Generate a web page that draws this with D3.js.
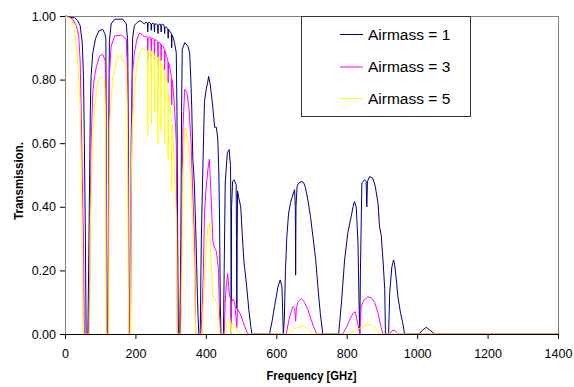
<!DOCTYPE html>
<html>
<head>
<meta charset="utf-8">
<script src="https://cdn.jsdelivr.net/npm/d3@7"></script>
<style>
  html, body { margin: 0; padding: 0; background: #fff; }
  svg { display: block; font-family: "Liberation Sans", Arial, sans-serif; }
</style>
</head>
<body>
<div id="chart"></div>
<script>
// values, [frequency GHz, transmission]
const seriesNames = ['Airmass = 1', 'Airmass = 3', 'Airmass = 5'];
const seriesColors = ['#000080', '#ff00ff', '#ffff00'];
const xTicks = [0, 200, 400, 600, 800, 1000, 1200, 1400];
const yTicks = [0, 0.2, 0.4, 0.6, 0.8, 1.0];

const airmass1 = [
  [0, 1.0], [10, 0.998], [20, 0.995], [27, 0.995], [36, 0.985], [43, 0.97], [49, 0.916], [52.5, 0.81],
  [55, 0.60], [58, 0.29], [60, 0], [65, 0], [68, 0.29], [70, 0.50], [72, 0.71], [74, 0.81], [79, 0.885],
  [87, 0.93], [96, 0.953], [107, 0.958], [113, 0.945], [116, 0.93], [118, 0.3], [119, 0], [122, 0],
  [124, 0.6], [126, 0.92], [131, 0.975], [141, 0.99], [164, 0.99], [174, 0.975], [178, 0.92], [180, 0.6],
  [182, 0], [185, 0], [188, 0.6], [192, 0.93], [197, 0.97], [205, 0.98], [212, 0.985], [220, 0.98],
  [225, 0.975], [230, 0.98], [234, 0.978], [235, 0.95], [236, 0.978], [240, 0.98], [244, 0.975],
  [245, 0.955], [246, 0.975], [250, 0.978], [253, 0.975], [254, 0.95], [255, 0.975], [259, 0.975],
  [263, 0.972], [264, 0.945], [265, 0.972], [270, 0.975], [272, 0.972], [273, 0.95], [274, 0.972],
  [278, 0.975], [282, 0.968], [283, 0.945], [284, 0.965], [288, 0.965], [292, 0.96], [293, 0.93],
  [294, 0.958], [298, 0.952], [302, 0.945], [303, 0.9], [304, 0.94], [308, 0.93], [311, 0.916],
  [316, 0.885], [318, 0.7], [320, 0.3], [322, 0], [326, 0], [329, 0.3], [331, 0.7], [333, 0.895],
  [340, 0.916], [349, 0.905], [354, 0.885], [357, 0.81], [360, 0.71], [363, 0.55], [366, 0.5],
  [368, 0.45], [372, 0.3], [376, 0.12], [378, 0.05], [380, 0], [384, 0], [387, 0.29], [391, 0.50],
  [396, 0.73], [401, 0.77], [405, 0.79], [408, 0.81], [413, 0.78], [420, 0.71], [425, 0.65], [430, 0.65],
  [434, 0.61], [437, 0.5], [439, 0.35], [441, 0.1], [443, 0], [450, 0], [452, 0.2], [455, 0.475],
  [461, 0.57], [466, 0.58], [470, 0.53], [471, 0.4], [472, 0.05], [473, 0.4], [476, 0.48], [480, 0.485],
  [486, 0.47], [487, 0.3], [488, 0.08], [489, 0.3], [490, 0.45], [493, 0.43], [499, 0.40], [503, 0.32],
  [508, 0.23], [515, 0.16], [522, 0.076], [528, 0.02], [531, 0], [581, 0], [588, 0.04], [595, 0.086],
  [605, 0.15], [611, 0.17], [616, 0.15], [618, 0.08], [620, 0], [623, 0.05], [626, 0.2], [630, 0.307],
  [635, 0.38], [640, 0.41], [645, 0.43], [652, 0.454], [654, 0.4], [655, 0.185], [656, 0.4], [659, 0.464],
  [664, 0.475], [671, 0.48], [678, 0.475], [683, 0.46], [690, 0.42], [697, 0.37], [704, 0.307],
  [712, 0.233], [718, 0.15], [725, 0.065], [732, 0], [777, 0], [785, 0.097], [794, 0.233], [803, 0.317],
  [811, 0.36], [818, 0.40], [822, 0.417], [827, 0.40], [832, 0.287], [835, 0.1], [837, 0], [839, 0.2],
  [843, 0.475], [851, 0.485], [855, 0.48], [857, 0.40], [859, 0.48], [865, 0.495], [874, 0.49],
  [881, 0.465], [889, 0.41], [893, 0.34], [898, 0.31], [903, 0.233], [908, 0.14], [910, 0], [919, 0],
  [922, 0.128], [928, 0.21], [933, 0.233], [936, 0.22], [941, 0.17], [945, 0.12], [953, 0.065],
  [960, 0.03], [964, 0], [1005, 0], [1016, 0.013], [1026, 0.021], [1035, 0.013], [1050, 0], [1400, 0]
];

const airmass3 = [
  [0, 1.0], [10, 0.997], [22, 0.99], [32, 0.97], [39, 0.937], [43, 0.86], [46, 0.71], [49, 0.50],
  [52.5, 0.29], [55, 0], [68, 0], [70, 0.15], [72, 0.39], [74, 0.60], [79, 0.76], [84, 0.81], [89, 0.84],
  [98, 0.874], [107, 0.88], [114, 0.86], [116, 0.8], [117.5, 0.2], [119, 0], [123, 0], [124.5, 0.5],
  [126, 0.81], [131, 0.905], [141, 0.937], [160, 0.94], [174, 0.927], [178, 0.81], [180, 0.4], [182, 0],
  [186, 0], [189, 0.5], [191, 0.81], [197, 0.885], [205, 0.93], [212, 0.947], [220, 0.94], [225, 0.935],
  [230, 0.937], [234, 0.932], [235, 0.86], [236, 0.93], [240, 0.935], [244, 0.93], [245, 0.87],
  [246, 0.93], [250, 0.93], [253, 0.927], [254, 0.86], [255, 0.925], [259, 0.925], [263, 0.92],
  [264, 0.84], [265, 0.918], [270, 0.915], [272, 0.912], [273, 0.86], [274, 0.91], [278, 0.905],
  [282, 0.895], [283, 0.83], [284, 0.89], [288, 0.875], [292, 0.86], [293, 0.79], [294, 0.855],
  [298, 0.835], [302, 0.81], [303, 0.72], [304, 0.8], [308, 0.76], [311, 0.71], [314, 0.65], [316, 0.60],
  [318, 0.3], [319, 0], [327, 0], [330, 0.2], [333, 0.5], [335, 0.65], [340, 0.77], [346, 0.76],
  [352, 0.71], [358, 0.60], [363, 0.44], [368, 0.29], [371, 0], [386, 0], [390, 0.1], [393, 0.2],
  [396, 0.37], [400, 0.45], [406, 0.52], [410, 0.55], [415, 0.43], [420, 0.29], [425, 0.27], [430, 0.26],
  [436, 0.2], [439, 0.05], [441, 0], [452, 0], [455, 0.1], [458, 0.15], [462, 0.19], [467, 0.12],
  [471, 0.11], [472, 0], [473, 0.1], [477, 0.11], [482, 0.10], [488, 0.02], [490, 0.08], [499, 0.06],
  [505, 0.04], [515, 0.01], [520, 0], [628, 0], [638, 0.055], [647, 0.086], [652, 0.08], [655, 0.04],
  [657, 0.08], [661, 0.10], [671, 0.112], [680, 0.10], [690, 0.076], [699, 0.044], [709, 0.015],
  [715, 0], [789, 0], [799, 0.02], [808, 0.044], [818, 0.065], [824, 0.07], [832, 0.03], [837, 0],
  [841, 0.086], [849, 0.107], [860, 0.117], [870, 0.114], [879, 0.10], [889, 0.065], [898, 0.02],
  [903, 0], [922, 0], [928, 0.01], [935, 0.012], [942, 0.005], [948, 0], [1400, 0]
];

const airmass5 = [
  [0, 1.0], [10, 0.995], [18, 0.99], [27, 0.96], [36, 0.86], [43, 0.71], [47, 0.43], [49, 0.2], [51, 0],
  [70, 0], [72, 0.34], [77, 0.57], [84, 0.71], [93, 0.79], [103, 0.81], [112, 0.80], [115, 0.7], [117, 0],
  [124, 0], [126, 0.65], [136, 0.81], [150, 0.874], [160, 0.874], [174, 0.84], [177, 0.7], [179, 0.3],
  [181, 0], [186, 0], [188, 0.5], [191, 0.65], [197, 0.76], [205, 0.85], [212, 0.885], [220, 0.9],
  [225, 0.895], [230, 0.895], [234, 0.89], [235, 0.62], [236, 0.89], [240, 0.895], [244, 0.89],
  [245, 0.66], [246, 0.89], [250, 0.885], [253, 0.88], [254, 0.7], [255, 0.88], [259, 0.875],
  [263, 0.87], [264, 0.6], [265, 0.87], [270, 0.86], [272, 0.855], [273, 0.64], [274, 0.85], [278, 0.84],
  [282, 0.825], [283, 0.6], [284, 0.82], [288, 0.8], [292, 0.78], [293, 0.55], [294, 0.76], [298, 0.72],
  [302, 0.675], [303, 0.45], [304, 0.66], [308, 0.58], [311, 0.50], [316, 0.37], [318, 0.1], [319, 0],
  [330, 0], [333, 0.3], [335, 0.50], [340, 0.65], [346, 0.63], [354, 0.55], [361, 0.39], [368, 0.18],
  [371, 0], [390, 0], [396, 0.18], [401, 0.27], [406, 0.34], [410, 0.35], [415, 0.22], [420, 0.12],
  [430, 0.10], [436, 0.06], [440, 0], [455, 0], [462, 0.05], [470, 0.04], [472, 0], [474, 0.035],
  [482, 0.03], [490, 0.01], [495, 0], [640, 0], [647, 0.015], [661, 0.021], [674, 0.026], [685, 0.021],
  [699, 0.005], [702, 0], [808, 0], [822, 0.011], [841, 0.02], [860, 0.03], [870, 0.03], [884, 0.016],
  [892, 0], [1400, 0]
];

const width = 574;
const height = 387;
const plot = { left: 65, right: 558, top: 16, bottom: 334 };

const svg = d3.select('#chart')
  .append('svg')
  .attr('width', width)
  .attr('height', height);

const x = d3.scaleLinear()
  .domain([0, 1400])
  .range([plot.left, plot.right]);

const y = d3.scaleLinear()
  .domain([0, 1])
  .range([plot.bottom, plot.top]);

// plot area border
svg.append('rect')
  .attr('x', plot.left + 0.5)
  .attr('y', plot.top + 0.5)
  .attr('width', plot.right - plot.left)
  .attr('height', plot.bottom - plot.top)
  .attr('fill', 'none')
  .attr('stroke', '#808080');

const line = d3.line()
  .x(d => x(d[0]))
  .y(d => y(d[1]));

[airmass1, airmass3, airmass5].forEach((data, i) => {
  svg.append('path')
    .datum(data)
    .attr('d', line)
    .attr('fill', 'none')
    .attr('stroke', seriesColors[i])
    .attr('stroke-width', 1)
    .attr('stroke-linejoin', 'round');
});

const xAxis = svg.append('g')
  .attr('transform', `translate(0,${plot.bottom})`)
  .call(d3.axisBottom(x).tickValues(xTicks).tickSize(5).tickSizeOuter(0).tickPadding(10)
    .tickFormat(d3.format('d')));

xAxis.select('.domain').attr('stroke', '#000');
xAxis.selectAll('text')
  .attr('font-family', '"Liberation Sans", Arial, sans-serif')
  .style('font-size', '12.5px')
  .attr('fill', '#000');

const yAxis = svg.append('g')
  .attr('transform', `translate(${plot.left},0)`)
  .call(d3.axisLeft(y).tickValues(yTicks).tickSize(5).tickSizeOuter(0).tickPadding(4)
    .tickFormat(d3.format('.2f')));

yAxis.select('.domain').attr('stroke', '#808080');
yAxis.selectAll('text')
  .attr('font-family', '"Liberation Sans", Arial, sans-serif')
  .style('font-size', '12.5px')
  .attr('fill', '#000');

// axis titles
svg.append('text')
  .attr('x', (plot.left + plot.right) / 2)
  .attr('y', 380)
  .attr('text-anchor', 'middle')
  .attr('textLength', 90)
  .attr('lengthAdjust', 'spacingAndGlyphs')
  .style('font-size', '12px')
  .style('font-weight', 'bold')
  .text('Frequency [GHz]');

svg.append('text')
  .attr('transform', 'translate(23,181) rotate(-90)')
  .attr('text-anchor', 'middle')
  .attr('textLength', 78)
  .attr('lengthAdjust', 'spacingAndGlyphs')
  .style('font-size', '12px')
  .style('font-weight', 'bold')
  .text('Transmission.');

// legend
const legend = svg.append('g');

legend.append('rect')
  .attr('x', 301.5)
  .attr('y', 16.5)
  .attr('width', 169)
  .attr('height', 100)
  .attr('fill', '#fff')
  .attr('stroke', '#333');

const legendRows = [34, 66.5, 98];

seriesNames.forEach((name, i) => {
  legend.append('line')
    .attr('x1', 340)
    .attr('x2', 363)
    .attr('y1', legendRows[i] + 0.5)
    .attr('y2', legendRows[i] + 0.5)
    .attr('stroke', seriesColors[i])
    .attr('stroke-width', 1);

  legend.append('text')
    .attr('x', 368)
    .attr('y', legendRows[i] + 5.5)
    .style('font-size', '15.5px')
    .text(name);
});
</script>
</body>
</html>
